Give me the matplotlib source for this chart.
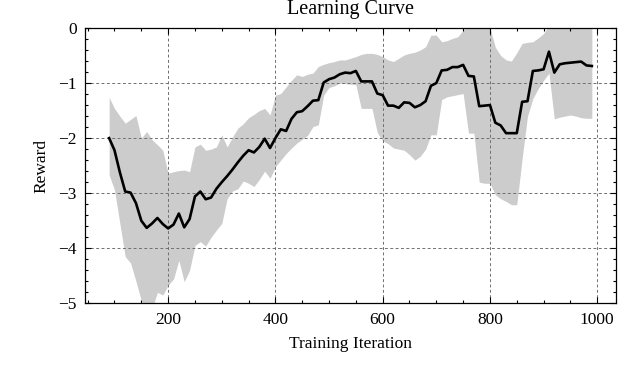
import numpy as np
import matplotlib.pyplot as plt
from matplotlib.ticker import MultipleLocator

plt.rcParams['font.family'] = ['Liberation Serif', 'DejaVu Serif']

# training iterations, one point every 10
iteracion = np.arange(90, 1000, 10)

recompensa = [-2.00, -2.22, -2.62, -2.97, -2.99, -3.18, -3.50, -3.63, -3.55, -3.45,
              -3.56, -3.64, -3.57, -3.37, -3.62, -3.47, -3.06, -2.97, -3.11, -3.08,
              -2.92, -2.80, -2.69, -2.57, -2.44, -2.32, -2.22, -2.26, -2.16, -2.01,
              -2.18, -2.00, -1.84, -1.87, -1.65, -1.53, -1.51, -1.42, -1.32, -1.31,
              -0.99, -0.93, -0.90, -0.84, -0.81, -0.82, -0.78, -0.97, -0.97, -0.97,
              -1.19, -1.22, -1.41, -1.41, -1.45, -1.35, -1.36, -1.44, -1.40, -1.33,
              -1.05, -1.00, -0.77, -0.76, -0.71, -0.71, -0.67, -0.87, -0.88, -1.42,
              -1.41, -1.40, -1.72, -1.77, -1.91, -1.91, -1.91, -1.34, -1.33, -0.78,
              -0.77, -0.75, -0.43, -0.81, -0.66, -0.64, -0.63, -0.62, -0.61, -0.68,
              -0.69]

banda_sup = [-1.26, -1.46, -1.60, -1.73, -1.66, -1.59, -2.00, -1.88, -2.03, -2.12,
             -2.22, -2.64, -2.61, -2.59, -2.58, -2.61, -2.16, -2.11, -2.22, -2.20,
             -2.16, -1.94, -2.16, -1.98, -1.82, -1.74, -1.63, -1.57, -1.50, -1.46,
             -1.58, -1.22, -1.19, -1.07, -0.95, -0.85, -0.88, -0.84, -0.82, -0.70,
             -0.66, -0.63, -0.61, -0.58, -0.58, -0.55, -0.52, -0.48, -0.46, -0.46,
             -0.48, -0.52, -0.58, -0.61, -0.55, -0.49, -0.46, -0.44, -0.40, -0.34,
             -0.13, -0.13, -0.25, -0.23, -0.19, -0.16, -0.04, 0.05, 0.10, 0.10,
             0.05, 0.00, -0.35, -0.50, -0.58, -0.60, -0.45, -0.28, -0.26, -0.25,
             -0.18, -0.10, 0.05, 0.10, 0.10, 0.10, 0.10, 0.10, 0.10, 0.10,
             0.10]

banda_inf = [-2.67, -2.94, -3.55, -4.15, -4.27, -4.60, -4.95, -5.10, -5.10, -4.80,
             -4.85, -4.67, -4.56, -4.22, -4.61, -4.40, -3.95, -3.88, -3.96, -3.80,
             -3.67, -3.55, -3.10, -2.96, -2.92, -2.78, -2.82, -2.88, -2.75, -2.60,
             -2.73, -2.52, -2.40, -2.28, -2.18, -2.09, -2.02, -1.95, -1.79, -1.76,
             -1.22, -1.08, -1.05, -1.00, -1.01, -1.02, -1.03, -1.46, -1.46, -1.46,
             -1.90, -2.05, -2.10, -2.18, -2.20, -2.22, -2.30, -2.40, -2.33, -2.20,
             -1.94, -1.94, -1.30, -1.25, -1.23, -1.21, -1.19, -1.91, -1.91, -2.80,
             -2.82, -2.82, -3.03, -3.10, -3.15, -3.21, -3.21, -2.37, -1.60, -1.28,
             -1.10, -0.95, -0.82, -1.65, -1.62, -1.60, -1.58, -1.60, -1.63, -1.64,
             -1.64]

fig = plt.figure(figsize=(6.4, 3.83), dpi=100)
ax = fig.add_axes([0.1328, 0.2081, 0.8297, 0.7188])

ax.fill_between(iteracion, banda_inf, banda_sup, color='#cccccc', linewidth=0)
ax.plot(iteracion, recompensa, color='black', linewidth=1.9)

ax.set_xlim(45, 1035)
ax.set_ylim(-5, 0)
ax.xaxis.set_major_locator(MultipleLocator(200))
ax.xaxis.set_minor_locator(MultipleLocator(50))
ax.yaxis.set_major_locator(MultipleLocator(1))
ax.yaxis.set_minor_locator(MultipleLocator(0.2))

ax.grid(True, which='major', color='#707070', linestyle=(0, (3, 2.5)), linewidth=0.7)
ax.tick_params(which='both', direction='in', top=True, right=True, labelsize=12.5)
ax.tick_params(which='major', length=4, width=0.8, pad=6)
ax.tick_params(which='minor', length=2.5, width=0.8)
for s in ax.spines.values():
    s.set_linewidth(0.9)

ax.set_title('Learning Curve', fontsize=14.5, pad=10)
ax.set_xlabel('Training Iteration', fontsize=12.5, labelpad=6)
ax.set_ylabel('Reward', fontsize=12.5, labelpad=6)

fig.savefig('out.png', dpi=100)
